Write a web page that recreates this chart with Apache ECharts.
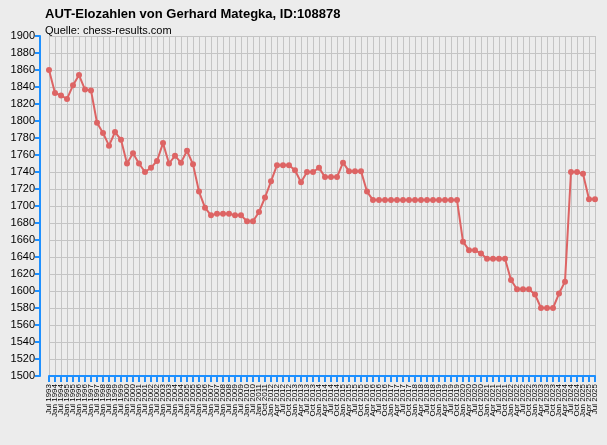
<!DOCTYPE html><html><head><meta charset="utf-8"><script src="https://cdn.jsdelivr.net/npm/echarts@6/dist/echarts.min.js"></script>
<style>html,body{margin:0;background:#ececec}#c{width:607px;height:445px}</style></head><body><div id="c"></div><script>
const categories=["Jul 1993","Jan 1994","Jul 1994","Jan 1995","Jul 1995","Jan 1996","Jul 1996","Jan 1997","Jul 1997","Jan 1998","Jul 1998","Jan 1999","Jul 1999","Jan 2000","Jul 2000","Jan 2001","Jul 2001","Jan 2002","Jul 2002","Jan 2003","Jul 2003","Jan 2004","Jul 2004","Jan 2005","Jul 2005","Jan 2006","Jul 2006","Jan 2007","Jul 2007","Jan 2008","Jul 2008","Jan 2009","Jul 2009","Jan 2010","Jul 2010","Jan 2011",
"Oct 2011","Jan 2012","Apr 2012","Jul 2012","Oct 2012","Jan 2013","Apr 2013","Jul 2013","Oct 2013","Jan 2014","Apr 2014","Jul 2014","Oct 2014","Jan 2015","Apr 2015","Jul 2015","Oct 2015","Jan 2016","Apr 2016","Jul 2016","Oct 2016","Jan 2017","Apr 2017","Jul 2017","Oct 2017","Jan 2018","Apr 2018","Jul 2018","Oct 2018","Jan 2019","Apr 2019","Jul 2019","Oct 2019","Jan 2020","Apr 2020","Jul 2020","Oct 2020","Jan 2021","Apr 2021","Jul 2021","Oct 2021","Jan 2022","Apr 2022","Jul 2022","Oct 2022","Jan 2023","Apr 2023","Jul 2023","Oct 2023","Jan 2024","Apr 2024","Jul 2024","Oct 2024","Jan 2025","Apr 2025","Jul 2025"];
const elo=[1860,1833,1830,1826,1842,1854,1837,1836,1798,1786,1771,1787,1778,1750,1762,1750,1740,1745,1753,1774,1750,1759,1751,1765,1749,1717,1698,1689,1691,1691,1691,1689,1689,1682,1682,1693,1710,1729,1748,1748,1748,1742,1728,1740,1740,1745,1734,1734,1734,1751,1741,1741,1741,1717,
1707,1707,1707,1707,1707,1707,1707,1707,1707,1707,1707,1707,1707,1707,1707,1658,1648,1648,1644,1638,1638,1638,1638,1613,1602,1602,1602,1596,1580,1580,1580,1597,1611,1740,1740,1738,1708,1708];
const chart=echarts.init(document.getElementById('c'));
chart.setOption({backgroundColor:'#ececec',animation:false,
graphic:[{type:'rect',shape:{x:40,y:36,width:9,height:340},style:{fill:'none'},silent:true}],
title:[{text:'AUT-Elozahlen von Gerhard Mategka, ID:108878',left:40,top:3,textStyle:{fontSize:13,fontWeight:'bold',color:'#000',fontFamily:'Liberation Sans'}},
{text:'Quelle: chess-results.com',left:40,top:20,textStyle:{fontSize:11,fontWeight:'normal',color:'#000',fontFamily:'Liberation Sans'}}],
grid:{left:49,right:12,top:36,bottom:69},
xAxis:{type:'category',data:categories,boundaryGap:false,
axisLine:{lineStyle:{color:'#1e90ff',width:2}},axisTick:{interval:0,length:6,lineStyle:{color:'#1e90ff',width:2}},
axisLabel:{interval:0,rotate:90,fontSize:8,color:'#000',fontFamily:'Liberation Sans'},
splitLine:{show:true,interval:0,lineStyle:{color:'#c4c4c4'}}},
yAxis:{type:'value',min:1500,max:1900,interval:20,offset:9,
axisLine:{show:true,lineStyle:{color:'#1e90ff',width:2}},axisTick:{show:true,length:5,lineStyle:{color:'#1e90ff',width:2}},
axisLabel:{fontSize:11,color:'#000',fontFamily:'Liberation Sans',margin:5,formatter:v=>String(v)},
splitLine:{lineStyle:{color:'#c4c4c4'}}},
series:[{type:'line',data:elo,symbol:'circle',symbolSize:6,lineStyle:{color:'#dd6464',width:2},itemStyle:{color:'#dd6464'}}]});
</script></body></html>
